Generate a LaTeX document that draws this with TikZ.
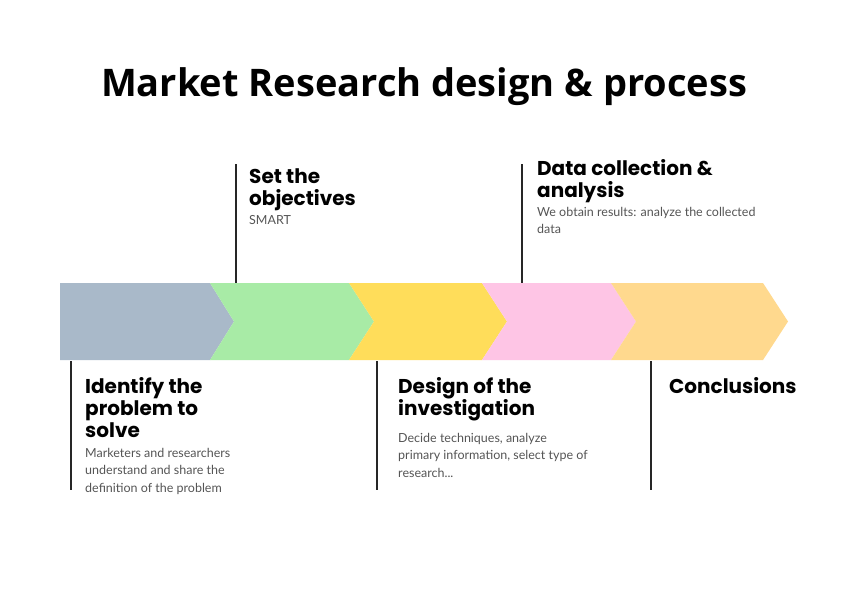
\documentclass[tikz,border=0pt]{standalone}
\usepackage{fontspec}
\setmainfont{Lato}
\newfontfamily\titlefont{Open Sans}
\newfontfamily\headfont{Poppins}
\newfontfamily\bodyfont{Lato}
\definecolor{cblue}{HTML}{A9B9C9}
\definecolor{cgreen}{HTML}{A8EBA6}
\definecolor{cyellow}{HTML}{FFDD5A}
\definecolor{cpink}{HTML}{FEC5E5}
\definecolor{corange}{HTML}{FFD98E}
\definecolor{bodygray}{HTML}{555555}
\tikzset{
  tick/.style={line width=1.6pt, draw=black!85},
  head/.style={anchor=north west, inner sep=0pt, align=left, font=\headfont\bfseries\fontsize{20}{22}\selectfont},
  body/.style={anchor=north west, inner sep=0pt, align=left, text=bodygray, font=\bodyfont\fontsize{12.5}{17.5}\selectfont},
}
\begin{document}
\begin{tikzpicture}[x=1pt,y=-1pt]
\useasboundingbox (0,0) rectangle (848,600);
\fill[white] (0,0) rectangle (848,600);
% title
\node[inner sep=0pt, font=\titlefont\bfseries\fontsize{38}{44}\selectfont] (title) at (424,87) {Market Research design \& process};
% chevrons
\fill[cblue]   (60,283) -- (210,283) -- (234,321.5) -- (210,360) -- (60,360) -- cycle;
\fill[cgreen]  (210,283) -- (349,283) -- (374,321.5) -- (349,360) -- (210,360) -- (234,321.5) -- cycle;
\fill[cyellow] (349,283) -- (482,283) -- (507,321.5) -- (482,360) -- (349,360) -- (374,321.5) -- cycle;
\fill[cpink]   (482,283) -- (611,283) -- (636,321.5) -- (611,360) -- (482,360) -- (507,321.5) -- cycle;
\fill[corange] (611,283) -- (763,283) -- (788,321.5) -- (763,360) -- (611,360) -- (636,321.5) -- cycle;
% ticks
\coordinate (t1a) at (71,361); \coordinate (t1b) at (71,490);
\coordinate (t2a) at (236,164); \coordinate (t2b) at (236,283);
\coordinate (t3a) at (377,361); \coordinate (t3b) at (377,490);
\coordinate (t4a) at (522,164); \coordinate (t4b) at (522,283);
\coordinate (t5a) at (651,361); \coordinate (t5b) at (651,490);
\draw[tick] (t1a) -- (t1b);
\draw[tick] (t2a) -- (t2b);
\draw[tick] (t3a) -- (t3b);
\draw[tick] (t4a) -- (t4b);
\draw[tick] (t5a) -- (t5b);
% texts
\node[head] (h1) at (85,377) {Identify the\\problem to\\solve};
\node[body] (b1) at (85,448) {Marketers and researchers\\understand and share the\\definition of the problem};
\node[head] (h2) at (249,168) {Set the\\objectives};
\node[body] (b2) at (249,215) {SMART};
\node[head] (h3) at (398,377) {Design of the\\investigation};
\node[body] (b3) at (398,433) {Decide techniques, analyze\\primary information, select type of\\research...};
\node[head] (h4) at (537,159) {Data collection \&\\analysis};
\node[body] (b4) at (537,207) {We obtain results: analyze the collected\\data};
\node[head] (h5) at (669,377) {Conclusions};
\end{tikzpicture}
\end{document}
